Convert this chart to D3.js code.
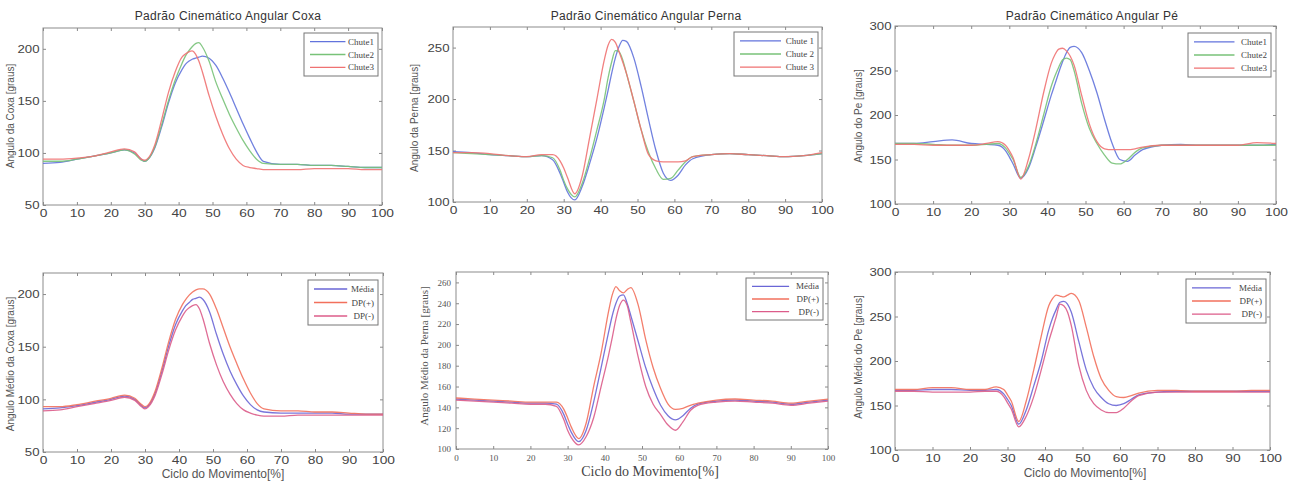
<!DOCTYPE html>
<html>
<head>
<meta charset="utf-8">
<script src="https://cdn.jsdelivr.net/npm/d3@7"></script>
<style>
  body { margin: 0; background: #fff; }
  svg { display: block; }
  .tick line { stroke: #8a8a8a; }
</style>
</head>
<body>
<svg id="chart" width="1298" height="483"></svg>
<script>
// % of movement cycle where the curves were read
const xPct = [0, 5, 10, 15, 20, 24, 27, 29, 30, 31, 33, 35, 37, 39, 41, 42, 43, 44, 45, 46, 47, 49, 51, 53, 55, 57, 59, 61, 63, 65, 70, 75, 80, 85, 90, 95, 100];

// Coxa (thigh)
const coxaChute1 = [90, 91, 94, 97, 100, 103, 100, 94, 92, 94, 105, 125, 148, 167, 180, 185, 188, 190, 191, 192, 193, 191, 184, 172, 158, 143, 128, 114, 101, 92, 89, 89, 88, 88, 87, 86, 86];
const coxaChute2 = [92, 92, 94, 97, 100, 103, 99, 93, 92, 94, 106, 127, 150, 170, 186, 193, 198, 202, 205, 206, 202, 188, 168, 152, 137, 124, 112, 102, 94, 90, 89, 89, 88, 88, 87, 86, 86];
const coxaChute3 = [94, 94, 95, 97, 101, 104, 101, 94, 93, 95, 108, 132, 158, 178, 192, 195, 197, 198, 195, 188, 178, 155, 135, 118, 104, 94, 88, 86, 85, 84, 84, 84, 85, 85, 85, 84, 84];
const coxaMedia = [91, 92, 94, 97, 100, 103, 100, 94, 92, 94, 106, 127, 151, 171, 184, 189, 192, 195, 196, 197, 195, 183, 162, 143, 127, 114, 103, 95, 90, 88, 87, 87, 87, 87, 86, 86, 86];
const coxaDpMais = [93, 93, 95, 98, 101, 104, 101, 95, 93, 95, 108, 130, 155, 176, 190, 195, 199, 202, 204, 205, 205, 200, 186, 168, 150, 134, 119, 106, 96, 91, 89, 89, 88, 88, 87, 86, 86];
const coxaDpMenos = [89, 90, 93, 96, 99, 102, 99, 93, 91, 93, 104, 124, 147, 166, 179, 184, 187, 189, 190, 186, 177, 153, 133, 117, 105, 96, 90, 87, 85, 84, 84, 85, 85, 85, 85, 85, 85];

// Perna (shank)
const pernaChute1 = [149, 148, 146, 145, 144, 145, 141, 128, 119, 110, 102, 115, 137, 162, 192, 208, 225, 240, 251, 257, 256, 240, 212, 180, 150, 128, 121, 126, 136, 142, 146, 147, 146, 145, 144, 145, 147];
const pernaChute2 = [148, 147, 146, 145, 144, 145, 143, 131, 121, 113, 105, 118, 142, 170, 200, 220, 236, 247, 246, 238, 225, 198, 170, 148, 132, 122, 123, 131, 139, 144, 146, 147, 146, 145, 144, 145, 147];
const pernaChute3 = [148, 148, 147, 145, 144, 146, 146, 140, 133, 124, 108, 125, 162, 200, 238, 252, 258, 255, 246, 236, 225, 198, 170, 146, 140, 139, 139, 139, 140, 144, 146, 147, 146, 145, 144, 145, 148];
const pernaMedia = [148, 147, 146, 145, 144, 144, 143, 133, 124, 116, 107, 118, 145, 178, 212, 228, 240, 247, 248, 240, 228, 203, 178, 158, 142, 132, 128, 132, 139, 143, 146, 147, 146, 145, 143, 145, 147];
const pernaDpMais = [149, 148, 147, 146, 145, 145, 145, 138, 130, 121, 110, 125, 160, 192, 232, 248, 256, 252, 250, 253, 255, 238, 205, 178, 158, 143, 138, 139, 142, 144, 147, 148, 147, 146, 144, 146, 148];
const pernaDpMenos = [147, 146, 145, 144, 143, 143, 141, 128, 118, 111, 104, 112, 130, 160, 190, 207, 225, 238, 243, 238, 222, 188, 160, 143, 133, 123, 118, 126, 137, 142, 145, 146, 145, 144, 142, 144, 146];

// Pé (foot)
const peChute1 = [168, 168, 170, 172, 168, 167, 166, 160, 153, 145, 129, 140, 165, 193, 222, 235, 248, 260, 270, 276, 277, 270, 250, 225, 195, 168, 150, 148, 155, 161, 166, 167, 166, 166, 166, 166, 167];
const peChute2 = [168, 168, 167, 166, 166, 167, 168, 163, 157, 150, 130, 142, 168, 200, 232, 244, 254, 262, 264, 262, 250, 213, 185, 168, 155, 146, 145, 150, 158, 163, 166, 166, 166, 166, 166, 166, 166];
const peChute3 = [167, 167, 166, 166, 166, 168, 170, 166, 160, 152, 128, 150, 185, 225, 258, 268, 274, 275, 272, 266, 256, 222, 190, 170, 162, 161, 161, 161, 162, 164, 166, 166, 166, 166, 166, 169, 168];
const peMedia = [167, 167, 168, 168, 167, 167, 168, 163, 157, 150, 129, 145, 172, 200, 235, 248, 258, 266, 267, 264, 255, 222, 190, 170, 159, 152, 150, 152, 157, 162, 165, 166, 166, 166, 166, 166, 166];
const peDpMais = [168, 168, 170, 170, 168, 168, 171, 168, 162, 155, 132, 155, 190, 228, 262, 270, 274, 273, 272, 274, 276, 268, 238, 205, 180, 167, 160, 159, 161, 164, 167, 167, 166, 166, 166, 167, 167];
const peDpMenos = [166, 166, 165, 165, 165, 166, 166, 160, 153, 146, 126, 138, 160, 190, 222, 236, 250, 264, 262, 255, 240, 195, 167, 152, 145, 142, 142, 147, 155, 161, 165, 165, 165, 165, 165, 165, 165];

const xTicks = [0, 10, 20, 30, 40, 50, 60, 70, 80, 90, 100];
const chuteLabels = ['Chute1', 'Chute2', 'Chute3'];
const chuteLabelsSpaced = ['Chute 1', 'Chute 2', 'Chute 3'];
const meanLabels = ['Média', 'DP(+)', 'DP(-)'];

const chuteColors = ['#6273dc', '#78c278', '#ef7272'];
const meanColors = ['#6a66d6', '#f2705c', '#dc5c8a'];

const SANS = '"Liberation Sans", Arial, sans-serif';
const SERIF = '"Liberation Serif", "Times New Roman", serif';

const panels = [
  { box: [43, 28, 382, 205], ydom: [50, 220], yticks: [50, 100, 150, 200],
    title: 'Padrão Cinemático Angular  Coxa', titleX: 228,
    ylabel: 'Angulo da Coxa [graus]', ylabX: 14, ylabY: 116,
    series: [coxaChute1, coxaChute2, coxaChute3], labels: chuteLabels, colors: chuteColors,
    legend: [304, 33, 74, 43], font: SANS },
  { box: [453, 27, 822, 202], ydom: [100, 270], yticks: [100, 150, 200, 250],
    title: 'Padrão Cinemático Angular  Perna', titleX: 646,
    ylabel: 'Angulo da Perna [graus]', ylabX: 418, ylabY: 118,
    series: [pernaChute1, pernaChute2, pernaChute3], labels: chuteLabelsSpaced, colors: chuteColors,
    legend: [734, 32, 84, 44], font: SANS },
  { box: [895, 26, 1276, 204], ydom: [100, 300], yticks: [100, 150, 200, 250, 300],
    title: 'Padrão Cinemático Angular  Pé', titleX: 1092,
    ylabel: 'Angulo do Pe [graus]', ylabX: 862, ylabY: 116,
    series: [peChute1, peChute2, peChute3], labels: chuteLabels, colors: chuteColors,
    legend: [1188, 33, 83, 44], font: SANS },
  { box: [43, 273, 383, 452], ydom: [50, 220], yticks: [50, 100, 150, 200],
    xlabel: 'Ciclo do Movimento[%]', xlabX: 223, xlabY: 478,
    ylabel: 'Angulo Médio da Coxa [graus]', ylabX: 14, ylabY: 364,
    series: [coxaMedia, coxaDpMais, coxaDpMenos], labels: meanLabels, colors: meanColors,
    legend: [308, 280, 70, 45], font: SANS },
  { box: [456, 272, 828, 449], ydom: [100, 270], yticks: [100, 120, 140, 160, 180, 200, 220, 240, 260],
    xlabel: 'Ciclo do Movimento[%]', xlabX: 650, xlabY: 476,
    ylabel: 'Angulo Médio da Perna [graus]', ylabX: 428, ylabY: 356,
    series: [pernaMedia, pernaDpMais, pernaDpMenos], labels: meanLabels, colors: meanColors,
    legend: [746, 278, 77, 42], font: SERIF, small: true },
  { box: [895, 272, 1270, 450], ydom: [100, 300], yticks: [100, 150, 200, 250, 300],
    xlabel: 'Ciclo do Movimento[%]', xlabX: 1085, xlabY: 477,
    ylabel: 'Angulo Médio do Pe [graus]', ylabX: 862, ylabY: 357,
    series: [peMedia, peDpMais, peDpMenos], labels: meanLabels, colors: meanColors,
    legend: [1186, 279, 80, 44], font: SANS }
];

const svg = d3.select('#chart');

panels.forEach((p) => {
  const [x0, y0, x1, y1] = p.box;
  const x = d3.scaleLinear().domain([0, 100]).range([x0, x1]);
  const y = d3.scaleLinear().domain(p.ydom).range([y1, y0]);
  const g = svg.append('g');

  // white plotting area + frame
  g.append('rect')
    .attr('x', x0).attr('y', y0)
    .attr('width', x1 - x0).attr('height', y1 - y0)
    .attr('fill', '#fff')
    .attr('stroke', '#8c8c8c')
    .attr('stroke-width', 1);

  const tickFont = p.small ? 9 : 11.5;
  const tickColor = p.small ? '#555' : '#444';

  // MATLAB style inward ticks on all sides
  const bottom = g.append('g')
    .attr('transform', `translate(0,${y1})`)
    .call(d3.axisBottom(x).tickValues(xTicks).tickSize(-3).tickPadding(p.small ? 6 : 4));
  const left = g.append('g')
    .attr('transform', `translate(${x0},0)`)
    .call(d3.axisLeft(y).tickValues(p.yticks).tickSize(-3).tickPadding(p.small ? 5 : 3));
  g.append('g')
    .attr('transform', `translate(0,${y0})`)
    .call(d3.axisTop(x).tickValues(xTicks).tickSize(-3).tickFormat(''));
  g.append('g')
    .attr('transform', `translate(${x1},0)`)
    .call(d3.axisRight(y).tickValues(p.yticks).tickSize(-3).tickFormat(''));

  g.selectAll('.domain').remove();
  [bottom, left].forEach((a) => {
    a.selectAll('text')
      .attr('fill', tickColor)
      .style('font-family', p.font)
      .style('font-size', `${tickFont}px`);
  });
  if (!p.small) {
    bottom.selectAll('text').attr('transform', 'scale(1.2,1)');
    left.selectAll('text').attr('transform', 'scale(1.15,1)');
  }

  // curves
  const line = d3.line()
    .x((d, i) => x(xPct[i]))
    .y(d => y(d))
    .curve(d3.curveMonotoneX);

  p.series.forEach((s, i) => {
    g.append('path')
      .datum(s)
      .attr('fill', 'none')
      .attr('stroke', p.colors[i])
      .attr('stroke-width', 1.3)
      .attr('stroke-opacity', 0.9)
      .attr('d', line);
  });

  // legend
  const [lx, ly, lw, lh] = p.legend;
  const lg = g.append('g').attr('transform', `translate(${lx},${ly})`);
  lg.append('rect')
    .attr('width', lw).attr('height', lh)
    .attr('fill', '#fff')
    .attr('stroke', '#777')
    .attr('stroke-width', 1);
  p.labels.forEach((lab, i) => {
    const yy = lh * (0.2 + i * 0.3);
    lg.append('line')
      .attr('x1', 6).attr('x2', lw * 0.56)
      .attr('y1', yy).attr('y2', yy)
      .attr('stroke', p.colors[i])
      .attr('stroke-width', 1.3);
    lg.append('text')
      .attr('x', lw - 4).attr('y', yy + 3)
      .attr('text-anchor', 'end')
      .attr('fill', '#444')
      .style('font-family', SERIF)
      .style('font-size', '9px')
      .text(lab);
  });

  // titles and axis labels
  if (p.title) {
    svg.append('text')
      .attr('x', p.titleX).attr('y', 20)
      .attr('text-anchor', 'middle')
      .attr('fill', '#333')
      .style('font-family', SANS)
      .style('font-size', '12px')
      .style('letter-spacing', '0.3px')
      .text(p.title);
  }
  if (p.xlabel) {
    svg.append('text')
      .attr('x', p.xlabX).attr('y', p.xlabY)
      .attr('text-anchor', 'middle')
      .attr('fill', p.small ? '#444' : '#555')
      .style('font-family', p.font)
      .style('font-size', p.small ? '14px' : '12px')
      .text(p.xlabel);
  }
  svg.append('text')
    .attr('transform', `translate(${p.ylabX},${p.ylabY}) rotate(-90)`)
    .attr('text-anchor', 'middle')
    .attr('fill', '#555')
    .style('font-family', p.font)
    .style('font-size', p.small ? '11px' : '10px')
    .text(p.ylabel);
});
</script>
</body>
</html>
